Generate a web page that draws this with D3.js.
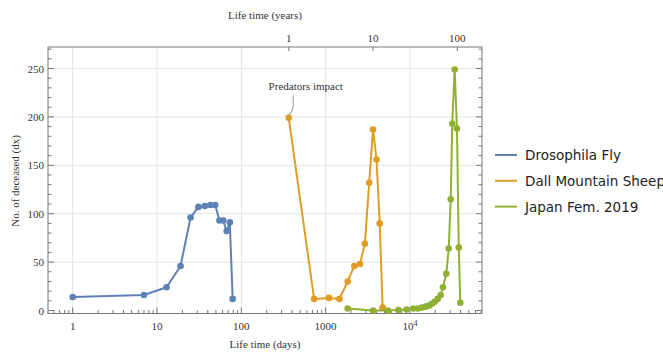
<!DOCTYPE html>
<html>
<head>
<meta charset="utf-8">
<script src="https://cdn.jsdelivr.net/npm/d3@7"></script>
<style>
  body { margin: 0; background: #fff; }
  svg { display: block; }
  .tick-label { font-family: "Liberation Serif", serif; font-size: 11px; fill: #333; }
  .axis-title { font-family: "Liberation Serif", serif; font-size: 11px; fill: #333; }
  .legend-label { font-family: "DejaVu Sans", sans-serif; font-size: 13.5px; fill: #222; }
</style>
</head>
<body>
<div id="chart"></div>
<script>
// drosophila: age in days, deaths
let flyDays = [1, 7, 13, 19, 25, 31, 37, 43, 49, 55, 61, 67, 73, 79];
let flyDeaths = [14, 16, 24, 46, 96, 107, 108, 109, 109, 93, 93, 82, 91, 12];

// dall mountain sheep: age in years
let sheepYears = [1, 2, 3, 4, 5, 6, 7, 8, 9, 10, 11, 12, 13];
let sheepDeaths = [199, 12, 13, 12, 30, 46, 48, 69, 132, 187, 156, 90, 3];

// japan females 2019: age in years
let japanYears = [5, 10, 15, 20, 25, 30, 34, 38, 42, 46, 50, 54, 58.5, 63.5, 67.5, 74, 79, 83.5, 87, 93, 99, 104, 108.5];
let japanDeaths = [2, 0, 0, 0.5, 1, 2, 2, 3, 4, 5, 7, 9, 12, 16, 24, 38, 64, 115, 193, 249, 188, 65, 8];

let seriesNames = ["Drosophila Fly", "Dall Mountain Sheep", "Japan Fem. 2019"];
let colors = ["#5e81b5", "#e19c24", "#8fb032"];

let dayTicks = [1, 10, 100, 1000, 10000];
let yearTicks = [1, 10, 100];
let yTicks = [0, 50, 100, 150, 200, 250];

let DAYS_PER_YEAR = 365.25;

let width = 663;
let height = 352;
let plotLeft = 48, plotRight = 482, plotTop = 47, plotBottom = 313.5;

let svg = d3
  .select("#chart")
  .append("svg")
  .attr("width", width)
  .attr("height", height);

let xScale = d3.scaleLog().domain([0.509, 71650]).range([plotLeft, plotRight]);
let xYears = d3
  .scaleLog()
  .domain(xScale.domain().map((d) => d / DAYS_PER_YEAR))
  .range([plotLeft, plotRight]);
let yScale = d3.scaleLinear().domain([0, 250]).range([310.5, 68.5]);

// grid
let grid = svg.append("g").attr("stroke", "#e3e3e3").attr("stroke-width", 1);
grid
  .selectAll("line.v")
  .data(dayTicks)
  .enter()
  .append("line")
  .attr("x1", (d) => xScale(d))
  .attr("x2", (d) => xScale(d))
  .attr("y1", plotTop)
  .attr("y2", plotBottom);
grid
  .selectAll("line.h")
  .data(yTicks.slice(1))
  .enter()
  .append("line")
  .attr("x1", plotLeft)
  .attr("x2", plotRight)
  .attr("y1", (d) => yScale(d))
  .attr("y2", (d) => yScale(d));

// frame
svg
  .append("rect")
  .attr("x", plotLeft)
  .attr("y", plotTop)
  .attr("width", plotRight - plotLeft)
  .attr("height", plotBottom - plotTop)
  .attr("fill", "none")
  .attr("stroke", "#777")
  .attr("stroke-width", 1);

let ticks = svg.append("g").attr("stroke", "#777").attr("stroke-width", 1);

// bottom log ticks (major + minor), pointing inwards
let minorDays = [];
for (let e = -1; e <= 4; e++) {
  for (let m = 1; m <= 9; m++) {
    let v = m * Math.pow(10, e);
    if (v >= xScale.domain()[0] && v <= xScale.domain()[1]) minorDays.push(v);
  }
}
ticks
  .selectAll("line.bx")
  .data(minorDays)
  .enter()
  .append("line")
  .attr("x1", (d) => xScale(d))
  .attr("x2", (d) => xScale(d))
  .attr("y1", plotBottom)
  .attr("y2", (d) => plotBottom - (dayTicks.includes(d) ? 6 : 3.5));

// top ticks in years
ticks
  .selectAll("line.tx")
  .data(yearTicks)
  .enter()
  .append("line")
  .attr("x1", (d) => xYears(d))
  .attr("x2", (d) => xYears(d))
  .attr("y1", plotTop)
  .attr("y2", plotTop + 4);

// left and right ticks every 10
let yMinor = d3.range(0, 271, 10);
["l", "r"].forEach(function (side) {
  let x0 = side == "l" ? plotLeft : plotRight;
  let dir = side == "l" ? 1 : -1;
  ticks
    .selectAll("line.y" + side)
    .data(yMinor)
    .enter()
    .append("line")
    .attr("x1", x0)
    .attr("x2", (d) => x0 + dir * (d % 50 == 0 ? 6 : 3.5))
    .attr("y1", (d) => yScale(d))
    .attr("y2", (d) => yScale(d));
});

// tick labels
svg
  .selectAll("text.ylab")
  .data(yTicks)
  .enter()
  .append("text")
  .attr("class", "tick-label")
  .attr("x", plotLeft - 4)
  .attr("y", (d) => yScale(d) + 4)
  .attr("text-anchor", "end")
  .text((d) => d);

let dayLabels = svg
  .selectAll("text.xlab")
  .data(dayTicks)
  .enter()
  .append("text")
  .attr("class", "tick-label")
  .attr("x", (d) => xScale(d))
  .attr("y", 330)
  .attr("text-anchor", "middle");
dayLabels.each(function (d) {
  let t = d3.select(this);
  if (d >= 10000) {
    t.append("tspan").text("10");
    t.append("tspan")
      .attr("dy", -4)
      .style("font-size", "8px")
      .text(Math.round(Math.log10(d)));
  } else {
    t.text(d);
  }
});

svg
  .selectAll("text.toplab")
  .data(yearTicks)
  .enter()
  .append("text")
  .attr("class", "tick-label")
  .attr("x", (d) => xYears(d))
  .attr("y", 42)
  .attr("text-anchor", "middle")
  .text((d) => d);

// axis titles
svg
  .append("text")
  .attr("class", "axis-title")
  .attr("x", 265)
  .attr("y", 19)
  .attr("text-anchor", "middle")
  .text("Life time (years)");
svg
  .append("text")
  .attr("class", "axis-title")
  .attr("x", 265)
  .attr("y", 348)
  .attr("text-anchor", "middle")
  .text("Life time (days)");
svg
  .append("text")
  .attr("class", "axis-title")
  .attr("transform", "translate(19,181) rotate(-90)")
  .attr("text-anchor", "middle")
  .text("No. of deceased (dx)");

// series
let series = [
  flyDays.map((d, i) => ({ x: d, y: flyDeaths[i] })),
  sheepYears.map((d, i) => ({ x: d * DAYS_PER_YEAR, y: sheepDeaths[i] })),
  japanYears.map((d, i) => ({ x: d * DAYS_PER_YEAR, y: japanDeaths[i] })),
];

let line = d3
  .line()
  .x((d) => xScale(d.x))
  .y((d) => yScale(d.y));

series.forEach(function (data, k) {
  let g = svg.append("g");
  g.append("path")
    .datum(data)
    .attr("d", line)
    .attr("fill", "none")
    .attr("stroke", colors[k])
    .attr("stroke-width", 2)
    .attr("stroke-linejoin", "round");
  g.selectAll("circle")
    .data(data)
    .enter()
    .append("circle")
    .attr("cx", (d) => xScale(d.x))
    .attr("cy", (d) => yScale(d.y))
    .attr("r", 3.3)
    .attr("fill", colors[k]);
});

// callout for the first sheep point
let first = series[1][0];
let px = xScale(first.x), py = yScale(first.y);
svg
  .append("path")
  .attr(
    "d",
    "M" + (px + 4.5) + "," + (py - 22) +
      " L" + (px + 4.5) + "," + (py - 12) +
      " Q" + (px + 4.5) + "," + (py - 7) + " " + px + "," + (py - 3)
  )
  .attr("fill", "none")
  .attr("stroke", "#aaa")
  .attr("stroke-width", 1.2);
svg
  .append("text")
  .attr("class", "axis-title")
  .attr("x", px + 17)
  .attr("y", py - 28)
  .attr("text-anchor", "middle")
  .text("Predators impact");

// legend
let legend = svg.append("g").attr("transform", "translate(495,155)");
seriesNames.forEach(function (name, i) {
  let row = legend.append("g").attr("transform", "translate(0," + i * 25.8 + ")");
  row.append("line")
    .attr("x1", 0)
    .attr("x2", 22)
    .attr("stroke", colors[i])
    .attr("stroke-width", 2);
  row.append("text")
    .attr("class", "legend-label")
    .attr("x", 30)
    .attr("y", 5)
    .text(name);
});
</script>
</body>
</html>
